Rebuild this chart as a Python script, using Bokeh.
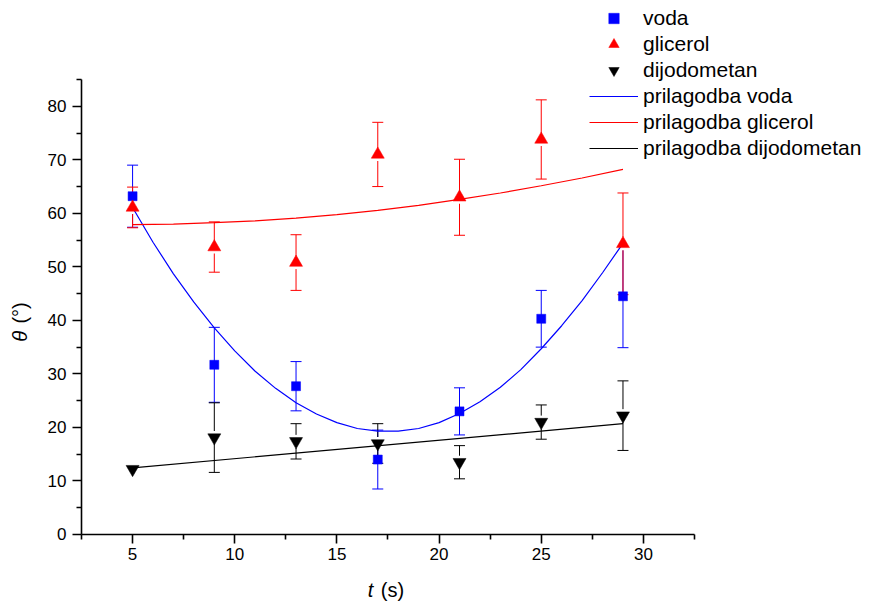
import math
from bokeh.plotting import figure
from bokeh.models import (ColumnDataSource, Whisker, TeeHead, Legend, LegendItem,
                          Label, Range1d, FixedTicker)
from bokeh.embed import file_html
from bokeh.resources import INLINE

# ---------------- data ----------------
t = [5, 9, 13, 17, 21, 25, 29]

voda = [63.2, 31.7, 27.7, 14.0, 23.0, 40.3, 44.5]
voda_err = [5.8, 7.0, 4.6, 5.5, 4.4, 5.3, 9.6]

glicerol = [61.1, 53.7, 50.8, 71.0, 63.0, 73.8, 54.3]
glicerol_err = [3.8, 4.7, 5.2, 6.0, 7.1, 7.4, 9.5]

dijodometan = [12.2, 18.1, 17.4, 17.0, 13.5, 21.0, 22.2]
dijodometan_err = [1.0, 6.5, 3.3, 3.7, 3.1, 3.2, 6.5]

fit_voda_t = [5, 6, 7, 8, 9, 10, 11, 12, 13, 14, 15, 16, 17,
              18, 19, 20, 21, 22, 23, 24, 25, 26, 27, 28, 29]
fit_voda = [61.1, 54.6, 48.7, 43.4, 38.6, 34.3, 30.5, 27.3, 24.6, 22.5, 20.9, 19.8, 19.3,
            19.3, 19.8, 20.9, 22.6, 24.8, 27.5, 30.8, 34.7, 39.0, 43.7, 48.9, 54.4]

fit_glicerol_t = [5, 7, 9, 11, 13, 15, 17, 19, 21, 23, 25, 27, 29]
fit_glicerol = [57.9, 58.0, 58.25, 58.6, 59.1, 59.75, 60.55, 61.5, 62.6, 63.8, 65.15, 66.6, 68.2]

fit_dijodometan_t = [5, 29]
fit_dijodometan = [12.45, 20.7]

x_ticks = [5, 10, 15, 20, 25, 30]
x_minor = [2.5, 7.5, 12.5, 17.5, 22.5, 27.5, 32.5]
x_bounds = (2.5, 32.5)
y_ticks = [0, 10, 20, 30, 40, 50, 60, 70, 80]
y_minor = [5, 15, 25, 35, 45, 55, 65, 75, 85]
y_bounds = (0, 85)

labels = ["voda", "glicerol", "dijodometan",
          "prilagodba voda", "prilagodba glicerol", "prilagodba dijodometan"]

FONT = "Liberation Sans"
BLUE = "#0000ff"
RED = "#ff0000"
BLACK = "#000000"

# ---------------- figure ----------------
# the frame fills the whole canvas; axes are pinned at x=2.5 / y=0 with bounds
p = figure(width=871, height=601, output_backend="svg", toolbar_location=None,
           x_range=Range1d(-1.464, 41.163), y_range=Range1d(-12.52, 99.76),
           min_border_left=0, min_border_right=0, min_border_top=0, min_border_bottom=0)
p.xgrid.visible = False
p.ygrid.visible = False
p.outline_line_color = None
p.background_fill_color = "white"
p.border_fill_color = "white"

p.xaxis[0].fixed_location = y_bounds[0]
p.yaxis[0].fixed_location = x_bounds[0]
p.xaxis[0].bounds = x_bounds
p.yaxis[0].bounds = y_bounds

for ax, ticks, minor, standoff in ((p.xaxis[0], x_ticks, x_minor, 5),
                                   (p.yaxis[0], y_ticks, y_minor, 6)):
    ax.ticker = FixedTicker(ticks=ticks, minor_ticks=minor)
    ax.axis_line_width = 1.6
    ax.axis_line_color = BLACK
    ax.major_tick_line_width = 1.6
    ax.minor_tick_line_width = 1.6
    ax.major_tick_in = 0
    ax.major_tick_out = 9
    ax.minor_tick_in = 0
    ax.minor_tick_out = 5
    ax.major_label_text_font = FONT
    ax.major_label_text_font_size = "17px"
    ax.major_label_text_color = BLACK
    ax.major_label_standoff = standoff


def whiskers(vals, errs, color):
    src = ColumnDataSource(dict(t=t, v=vals,
                                upper=[v + e for v, e in zip(vals, errs)],
                                lower=[v - e for v, e in zip(vals, errs)]))
    w = Whisker(source=src, base="t", upper="upper", lower="lower", level="underlay",
                line_color=color, line_width=1,
                upper_head=TeeHead(size=11, line_color=color, line_width=1),
                lower_head=TeeHead(size=11, line_color=color, line_width=1))
    p.add_layout(w)
    return src


src_v = whiskers(voda, voda_err, BLUE)
src_g = whiskers(glicerol, glicerol_err, RED)
src_d = whiskers(dijodometan, dijodometan_err, BLACK)

# white boxes behind triangles (gap in error bars as in the reference)
p.scatter("t", "v", source=src_g, marker="square", size=13, fill_color="white", line_color=None)
p.scatter("t", "v", source=src_d, marker="square", size=13, fill_color="white", line_color=None)

# fit lines
l_v = p.line(fit_voda_t, fit_voda, line_color=BLUE, line_width=1.2)
l_g = p.line(fit_glicerol_t, fit_glicerol, line_color=RED, line_width=1.2)
l_d = p.line(fit_dijodometan_t, fit_dijodometan, line_color=BLACK, line_width=1.2)

# data markers
r_v = p.scatter("t", "v", source=src_v, marker="square", size=9,
                fill_color=BLUE, line_color=BLUE, line_width=0.5)
r_g = p.scatter("t", "v", source=src_g, marker="triangle", size=13,
                fill_color=RED, line_color=RED, line_width=0.5)
r_d = p.scatter("t", "v", source=src_d, marker="inverted_triangle", size=13,
                fill_color=BLACK, line_color=BLACK, line_width=0.5)

legend = Legend(items=[LegendItem(label=labels[0], renderers=[r_v]),
                       LegendItem(label=labels[1], renderers=[r_g]),
                       LegendItem(label=labels[2], renderers=[r_d]),
                       LegendItem(label=labels[3], renderers=[l_v]),
                       LegendItem(label=labels[4], renderers=[l_g]),
                       LegendItem(label=labels[5], renderers=[l_d])],
                location=(589, 440), orientation="vertical",
                label_text_font=FONT, label_text_font_size="21px", label_text_color=BLACK,
                glyph_width=49, glyph_height=26, label_height=20, label_standoff=5,
                spacing=0, padding=0, margin=0,
                border_line_color=None, background_fill_alpha=0)
p.add_layout(legend)

# axis titles
common = dict(text_font=FONT, text_font_size="20px", text_color=BLACK,
              text_align="center", text_baseline="middle")
p.add_layout(Label(x=-0.53, y=37.0, text="θ", angle=math.pi / 2,
                   text_font_style="italic", **common))
p.add_layout(Label(x=-0.53, y=41.4, text="(°)", angle=math.pi / 2, **common))
p.add_layout(Label(x=16.64, y=-10.46, text="t", text_font_style="italic", **common))
p.add_layout(Label(x=17.72, y=-10.46, text="(s)", **common))

open("out.html", "w").write(file_html(p, INLINE))
